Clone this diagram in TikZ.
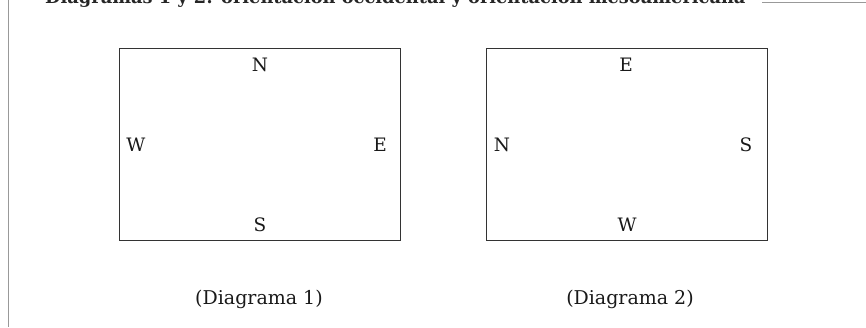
\documentclass[tikz,border=0pt]{standalone}
\usepackage{fontspec}
\setmainfont{DejaVu Serif}
\begin{document}
\begin{tikzpicture}[x=1pt,y=-1pt,
  box/.style={draw=black!80,line width=1pt},
  rule/.style={draw=black!40,line width=1pt},
  dir/.style={font=\fontsize{18.5}{19}\selectfont,text=black!90,inner sep=0pt},
  captext/.style={font=\fontsize{19}{20}\selectfont,text=black!90,inner sep=0pt}]
\useasboundingbox (0,0) rectangle (866,327);
% title (cut at top edge)
\node[anchor=base west,inner sep=0pt,font=\bfseries\fontsize{17.8}{18}\selectfont,text=black!85] (title) at (45,3.5) {Diagramas 1 y 2: orientación occidental y orientación mesoamericana};
\coordinate (lt) at (8,0);
\coordinate (lb) at (8,327);
\draw[rule] (lt) -- (lb);
\coordinate (hl) at (762,2.5);
\coordinate (hr) at (866,2.5);
\draw[rule] (hl) -- (hr);
% diagram 1
\draw[box] (119,48) rectangle (400,240);
\node[dir] (n1) at (260,65) {N};
\node[dir] (w1) at (136,145) {W};
\node[dir] (e1) at (380,145) {E};
\node[dir] (s1) at (260,225) {S};
\node[captext] (c1) at (259,299) {(Diagrama 1)};
% diagram 2
\draw[box] (486,48) rectangle (767,240);
\node[dir] (e2) at (626,65) {E};
\node[dir] (n2) at (502,145) {N};
\node[dir] (s2) at (746,145) {S};
\node[dir] (w2) at (627,225) {W};
\node[captext] (c2) at (630,299) {(Diagrama 2)};
\end{tikzpicture}
\end{document}
